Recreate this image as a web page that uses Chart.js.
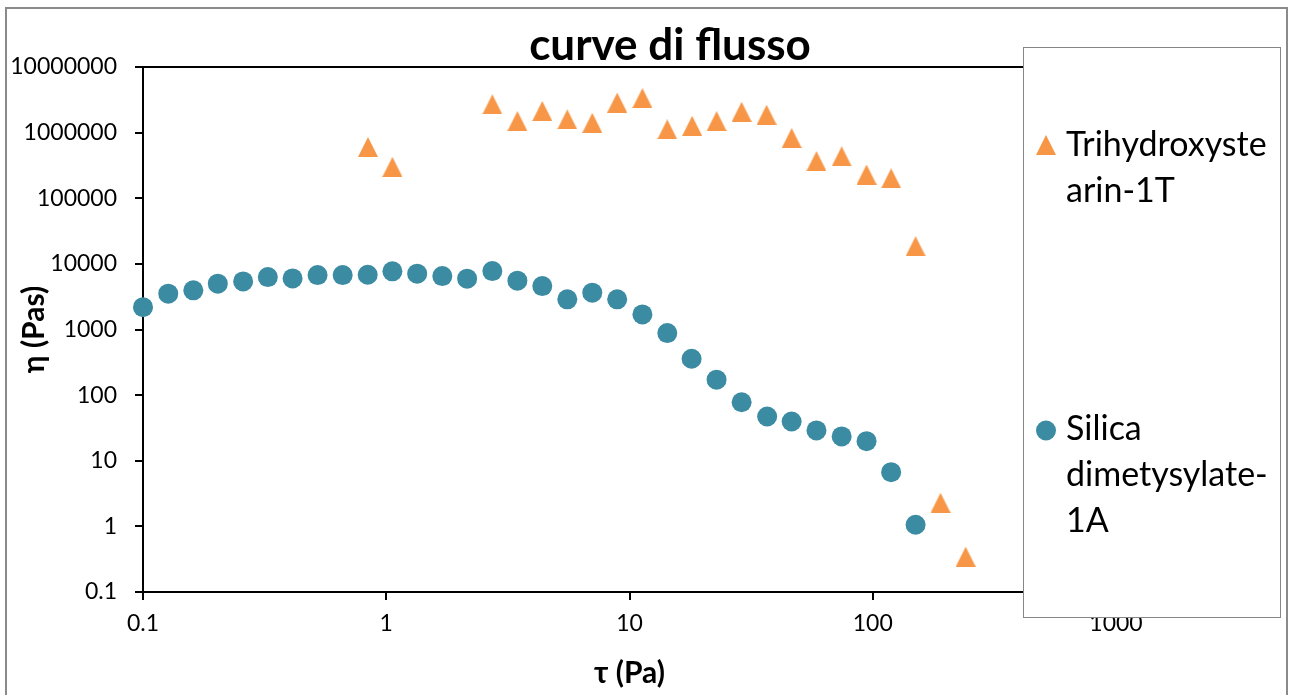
<!DOCTYPE html>
<html>
<head>
    <meta charset="utf-8">
    <script src="https://cdnjs.cloudflare.com/ajax/libs/Chart.js/4.4.0/chart.umd.min.js"></script>
    <title>curve di flusso</title>
    <style>
        body { margin: 0; background: #fff; }
        #box { width: 1291px; height: 695px; position: relative; }
    </style>
</head>
<body>

<div id="box">
    <canvas id="myChart"></canvas>
</div>

<script>
    // Data (tau in Pa, eta in Pas)
    const silicaLabel = 'Silica dimetysylate-1A';
    const silicaX = [0.1, 0.127, 0.161, 0.203, 0.258, 0.326, 0.412, 0.522, 0.662, 0.839,
                     1.06, 1.34, 1.70, 2.15, 2.73, 3.46, 4.38, 5.55, 7.03, 8.90,
                     11.3, 14.3, 18.0, 22.8, 28.9, 36.8, 46.4, 58.7, 74.5, 94.3,
                     119, 150];
    const silicaY = [2190, 3520, 3950, 4990, 5410, 6290, 6010, 6750, 6750, 6840,
                     7690, 7090, 6520, 5950, 7770, 5550, 4590, 2880, 3640, 2880,
                     1700, 881, 359, 172, 78, 47.3, 39.7, 29, 23.5, 19.9,
                     6.7, 1.06];

    const trihLabel = 'Trihydroxystearin-1T';
    const trihX = [0.841, 1.06, 2.73, 3.46, 4.38, 5.55, 7.03, 8.90, 11.3, 14.3,
                   18.1, 22.8, 28.9, 36.6, 46.4, 58.7, 74.5, 94.3, 119, 150,
                   190, 241];
    const trihY = [603000, 301000, 2700000, 1500000, 2140000, 1590000, 1410000, 2870000, 3360000, 1120000,
                   1270000, 1500000, 2080000, 1870000, 827000, 368000, 435000, 230000, 201000, 18600,
                   2.29, 0.345];

    // tick labels of both log axes
    const xTicks = [0.1, 1, 10, 100, 1000];
    const yTicks = [0.1, 1, 10, 100, 1000, 10000, 100000, 1000000, 10000000];

    // legend text is wrapped like in the original box
    const legendLines = {};
    legendLines[trihLabel] = ['Trihydroxyste', 'arin-1T'];
    legendLines[silicaLabel] = ['Silica', 'dimetysylate-', '1A'];

    const chartTitle = 'curve di flusso';
    const FONT = 'Lato, "Open Sans", sans-serif';
    const orange = '#f79646';
    const teal = '#3b8ba3';

    function toPoints(xs, ys) {
        var pts = [];
        for (var i = 0; i < xs.length; i++) pts.push({x: xs[i], y: ys[i]});
        return pts;
    }

    // Excel style triangle marker (centered on its box)
    function triangleMarker(size, color) {
        var c = document.createElement('canvas');
        c.width = size; c.height = size;
        var g = c.getContext('2d');
        g.fillStyle = color;
        g.beginPath();
        g.moveTo(size / 2, 0);
        g.lineTo(size, size);
        g.lineTo(0, size);
        g.closePath();
        g.fill();
        return c;
    }
    const triImg = triangleMarker(20, orange);

    // frame, title and the boxed legend, drawn by hand
    const decorPlugin = {
        id: 'decor',
        beforeDraw(chart) {
            var ctx = chart.ctx;
            ctx.save();
            ctx.strokeStyle = '#8a8a8a';
            ctx.lineWidth = 2;
            ctx.strokeRect(6, 8, 1281, 700);
            ctx.restore();
        },
        afterDraw(chart) {
            var ctx = chart.ctx;
            var a = chart.chartArea;
            ctx.save();
            // top line of the plot area
            ctx.strokeStyle = '#000';
            ctx.lineWidth = 2;
            ctx.beginPath();
            ctx.moveTo(a.left, a.top);
            ctx.lineTo(a.right, a.top);
            ctx.lineTo(a.right, a.bottom);
            ctx.stroke();

            // title
            ctx.fillStyle = '#000';
            ctx.font = 'bold 44px ' + FONT;
            ctx.textAlign = 'center';
            ctx.textBaseline = 'alphabetic';
            ctx.fillText(chartTitle, 670, 60);

            // legend box
            ctx.fillStyle = '#fff';
            ctx.fillRect(1023.5, 47.5, 257, 570);
            ctx.strokeStyle = '#868686';
            ctx.lineWidth = 1;
            ctx.strokeRect(1023.5, 47.5, 257, 570);

            var entries = [
                {ds: chart.data.datasets[0], markY: 145, base: 156},
                {ds: chart.data.datasets[1], markY: 430.5, base: 440}
            ];
            ctx.font = '34px ' + FONT;
            ctx.textAlign = 'left';
            entries.forEach(function (e) {
                if (e.ds.pointStyle === 'circle') {
                    ctx.fillStyle = e.ds.backgroundColor;
                    ctx.beginPath();
                    ctx.arc(1046, e.markY, 10, 0, Math.PI * 2);
                    ctx.fill();
                } else {
                    ctx.drawImage(e.ds.pointStyle, 1036, e.markY - 10);
                }
                ctx.fillStyle = '#000';
                legendLines[e.ds.label].forEach(function (line, i) {
                    ctx.fillText(line, 1066, e.base + i * 46);
                });
            });
            ctx.restore();
        }
    };

    const data = {
        datasets: [{
            label: trihLabel,
            data: toPoints(trihX, trihY),
            pointStyle: triImg,
            backgroundColor: orange,
            borderWidth: 0,
            clip: false
        }, {
            label: silicaLabel,
            data: toPoints(silicaX, silicaY),
            pointStyle: 'circle',
            pointRadius: 10,
            backgroundColor: teal,
            borderColor: teal,
            borderWidth: 0,
            clip: false
        }]
    };

    function axis(ticks, title, extra) {
        var o = {
            type: 'logarithmic',
            min: ticks[0],
            max: ticks[ticks.length - 1],
            afterBuildTicks: function (scale) {
                scale.ticks = ticks.map(function (v) { return {value: v}; });
            },
            ticks: {
                color: '#000',
                font: {family: FONT, size: 23},
                autoSkip: false,
                maxRotation: 0,
                callback: function (v) { return String(v); }
            },
            grid: {display: true, drawOnChartArea: false, drawTicks: true, tickLength: 8, color: '#000', lineWidth: 2},
            border: {display: true, color: '#000', width: 2},
            title: {display: true, text: title, color: '#000', font: {family: FONT, size: 30, weight: 'bold'}}
        };
        return Object.assign(o, extra);
    }

    const config = {
        type: 'scatter',
        data: data,
        options: {
            responsive: true,
            maintainAspectRatio: false,
            animation: false,
            layout: {padding: {left: 0, top: 67, right: 175, bottom: 0}},
            plugins: {
                legend: {display: false},
                title: {display: false},
                tooltip: {enabled: false}
            },
            scales: {
                x: axis(xTicks, 'τ (Pa)', {
                    position: 'bottom',
                    afterFit: function (s) { s.height = 103; }
                }),
                y: axis(yTicks, 'η (Pas)', {
                    position: 'left',
                    afterFit: function (s) { s.width = 143; }
                })
            }
        },
        plugins: [decorPlugin]
    };
    config.options.scales.x.ticks.padding = 10;
    config.options.scales.x.title.padding = {top: 0, bottom: 4};
    config.options.scales.y.ticks.padding = 18;
    config.options.scales.y.title.padding = {top: 16, bottom: 0};

    var myChart = new Chart(document.getElementById('myChart'), config);
</script>
</body>
</html>
